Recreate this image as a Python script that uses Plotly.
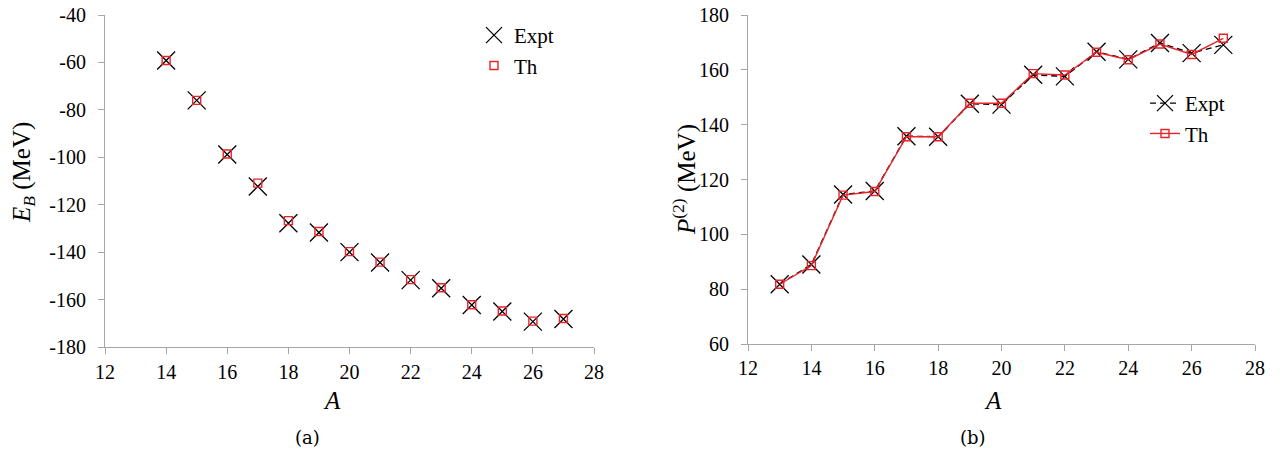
import plotly.graph_objects as go

# ---- data ----
A_a = [14, 15, 16, 17, 18, 19, 20, 21, 22, 23, 24, 25, 26, 27]
EB_expt = [-59.2, -76.0, -98.8, -112.3, -127.8, -131.7, -140.0, -144.4, -151.8, -155.2, -162.3, -165.0, -169.3, -168.2]
EB_th = [-59.2, -76.0, -98.6, -110.9, -126.7, -131.3, -139.8, -144.2, -151.6, -155.0, -162.2, -164.8, -169.1, -168.0]

A_b = [13, 14, 15, 16, 17, 18, 19, 20, 21, 22, 23, 24, 25, 26, 27]
P2_expt = [81.8, 89.0, 114.5, 115.8, 135.8, 135.6, 147.6, 147.3, 158.2, 157.6, 166.6, 163.8, 169.8, 166.1, 169.1]
P2_th = [81.8, 88.6, 114.3, 115.6, 135.6, 135.6, 147.8, 147.8, 158.6, 158.1, 166.4, 163.7, 169.4, 165.6, 171.5]

x_ticks = [12, 14, 16, 18, 20, 22, 24, 26, 28]
ya_ticks = [-40, -60, -80, -100, -120, -140, -160, -180]
ya_ticktext = ["-40", "-60", "-80", "-100", "-120", "-140", "-160", "-180"]
yb_ticks = [60, 80, 100, 120, 140, 160, 180]

FONT = "Liberation Serif, Times New Roman, serif"
GRAY = "#a6a6a6"

fig = go.Figure()

# Panel (a)
fig.add_trace(go.Scatter(x=A_a, y=EB_expt, mode="markers", name="Expt",
                         marker=dict(symbol="x-thin-open", size=18, color="black",
                                     line=dict(color="black", width=1.3)),
                         xaxis="x", yaxis="y", legend="legend"))
fig.add_trace(go.Scatter(x=A_a, y=EB_th, mode="markers", name="Th",
                         marker=dict(symbol="square-open", size=8, color="#e8242a",
                                     line=dict(color="#e8242a", width=1.4)),
                         xaxis="x", yaxis="y", legend="legend"))

# Panel (b)
fig.add_trace(go.Scatter(x=A_b, y=P2_expt, mode="lines+markers", name="Expt",
                         line=dict(color="black", width=1.4, dash="6px,4px"),
                         marker=dict(symbol="x-thin-open", size=18, color="black",
                                     line=dict(color="black", width=1.3)),
                         xaxis="x2", yaxis="y2", legend="legend2"))
fig.add_trace(go.Scatter(x=A_b, y=P2_th, mode="lines+markers", name="Th",
                         line=dict(color="#e8242a", width=1.4),
                         marker=dict(symbol="square-open", size=8, color="#e8242a",
                                     line=dict(color="#e8242a", width=1.4)),
                         xaxis="x2", yaxis="y2", legend="legend2"))

axis_common = dict(showgrid=False, zeroline=False, showline=True, linecolor=GRAY,
                   linewidth=1.2, ticks="outside", tickcolor=GRAY, ticklen=6,
                   tickwidth=1.2, tickfont=dict(family=FONT, size=20, color="black"),
                   mirror=False, automargin=False)

ann_common = dict(xref="paper", yref="paper", showarrow=False,
                  xanchor="center", yanchor="middle")

fig.update_layout(
    template="none",
    width=1286, height=453, autosize=False,
    margin=dict(l=0, r=0, t=0, b=0, pad=0),
    plot_bgcolor="white", paper_bgcolor="white",
    font=dict(family=FONT, color="black", size=20),
    xaxis=dict(domain=[105 / 1286, 594 / 1286], range=[12, 28], tickvals=x_ticks,
               anchor="y", ticklabelstandoff=1, **axis_common),
    yaxis=dict(domain=[1 - 347 / 453, 1 - 15 / 453], range=[-180, -40],
               tickvals=ya_ticks, ticktext=ya_ticktext, anchor="x",
               ticklabelstandoff=8, **axis_common),
    xaxis2=dict(domain=[748 / 1286, 1255 / 1286], range=[12, 28], tickvals=x_ticks,
                anchor="y2", ticklabelstandoff=0, **axis_common),
    yaxis2=dict(domain=[1 - 344 / 453, 1 - 15 / 453], range=[60, 180],
                tickvals=yb_ticks, anchor="x2", ticklabelstandoff=8, **axis_common),
    legend=dict(x=474 / 1286, y=1 - 15 / 453, xanchor="left", yanchor="top",
                bgcolor="rgba(0,0,0,0)", font=dict(family=FONT, size=21),
                itemwidth=30, tracegroupgap=0),
    legend2=dict(x=1145 / 1286, y=1 - 83 / 453, xanchor="left", yanchor="top",
                 bgcolor="rgba(0,0,0,0)", font=dict(family=FONT, size=21),
                 itemwidth=30, tracegroupgap=0),
    showlegend=True,
    annotations=[
        dict(text="<i>E</i><sub><i>B</i></sub> (MeV)", x=24 / 1286, y=1 - 173 / 453,
             textangle=-90, font=dict(family=FONT, size=25), **ann_common),
        dict(text="<i>P</i><sup>(2)</sup> (MeV)", x=684 / 1286, y=1 - 180 / 453,
             textangle=-90, font=dict(family=FONT, size=25), **ann_common),
        dict(text="<i>A</i>", x=332 / 1286, y=1 - 400 / 453,
             font=dict(family=FONT, size=25), **ann_common),
        dict(text="<i>A</i>", x=993 / 1286, y=1 - 400 / 453,
             font=dict(family=FONT, size=25), **ann_common),
        dict(text="(a)", x=307 / 1286, y=1 - 437 / 453,
             font=dict(family="DejaVu Serif", size=18), **ann_common),
        dict(text="(b)", x=973 / 1286, y=1 - 437 / 453,
             font=dict(family="DejaVu Serif", size=18), **ann_common),
    ],
)

fig.write_html("out.html", config={"displayModeBar": False},
               post_script="document.body.style.margin='0';document.body.style.padding='0';")
